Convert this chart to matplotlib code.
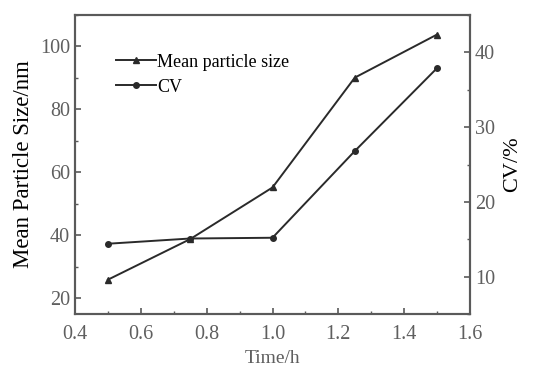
import matplotlib
matplotlib.use("Agg")
import matplotlib.pyplot as plt
from matplotlib.ticker import MultipleLocator

time_h = [0.5, 0.75, 1.0, 1.25, 1.5]
mean_size = [25.9, 38.8, 55.2, 90.1, 103.8]
cv = [14.4, 15.1, 15.2, 26.8, 37.9]

plt.rcParams['font.family'] = ['Liberation Serif', 'DejaVu Serif']

fig = plt.figure(figsize=(5.34, 3.67), dpi=100)
ax = fig.add_axes([75/534, 1 - 314/367, 395/534, 299/367])
ax2 = ax.twinx()

line_col = '#2a2a2a'
axis_col = '#5a5a5a'
tick_col = '#5f5f5f'

l1, = ax.plot(time_h, mean_size, color=line_col, lw=1.4, marker='^', ms=4, label='Mean particle size')
l2, = ax2.plot(time_h, cv, color=line_col, lw=1.4, marker='o', ms=4, label='CV')

ax.set_xlim(0.4, 1.6)
ax.set_ylim(15, 110)
ax2.set_ylim(5, 45)

ax.xaxis.set_major_locator(MultipleLocator(0.2))
ax.xaxis.set_minor_locator(MultipleLocator(0.1))
ax.yaxis.set_major_locator(MultipleLocator(20))
ax.yaxis.set_minor_locator(MultipleLocator(10))
ax2.yaxis.set_major_locator(MultipleLocator(10))
ax2.yaxis.set_minor_locator(MultipleLocator(5))

for a in (ax, ax2):
    for s in a.spines.values():
        s.set_color(axis_col)
        s.set_linewidth(1.5)
    a.tick_params(which='both', direction='in', color=axis_col, labelcolor=tick_col, labelsize=14.5)
    a.tick_params(which='major', length=4, width=1.2)
    a.tick_params(which='minor', length=2.5, width=1.0)
ax.tick_params(axis='y', right=False)
ax.tick_params(axis='x', pad=8)

# reference crops this label at the bottom edge; keep it just inside
ax.set_xlabel('Time/h', fontsize=14, color=tick_col, labelpad=4)
ax.set_ylabel('Mean Particle Size/nm', fontsize=16.5, labelpad=4)
ax2.set_ylabel('CV/%', fontsize=16, labelpad=6)

ax.legend(handles=[l1, l2], loc='upper left', bbox_to_anchor=(0.085, 0.895), frameon=False,
          fontsize=13, handlelength=2.2, handletextpad=0.1, labelspacing=0.45, borderaxespad=0)

fig.savefig('out.png', dpi=100)
